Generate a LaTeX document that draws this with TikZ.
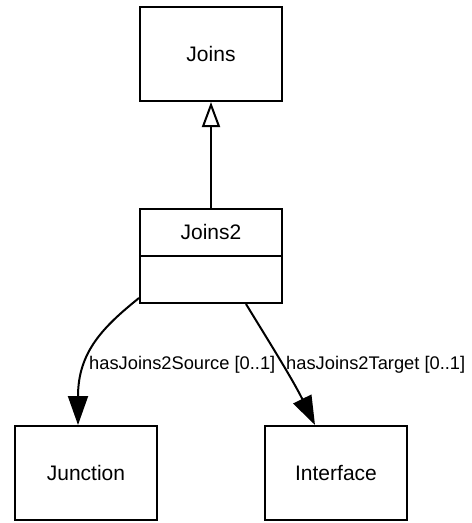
\documentclass[tikz,border=0pt]{standalone}
\usepackage{fontspec}
\setmainfont{Liberation Sans}
\usetikzlibrary{arrows.meta}
\begin{document}
\begin{tikzpicture}[x=1pt,y=-1pt,
  classbox/.style={draw=black, line width=2pt, minimum width=142pt, minimum height=94pt, inner sep=0pt, font=\fontsize{21}{25}\selectfont},
  edgelabel/.style={inner sep=0pt, anchor=west, font=\fontsize{18.3}{22}\selectfont},
  conn/.style={line width=2pt},
  assoc/.style={conn, -{Triangle[length=29pt,width=20pt]}},
  inherit/.style={conn, -{Triangle[open,length=25pt,width=18pt,fill=white]}}]
\useasboundingbox (0,0) rectangle (472,523);
\node[classbox] (joins) at (211,54) {Joins};
\node[classbox] (j2) at (211,256) {};
\node[font=\fontsize{21}{25}\selectfont, inner sep=0pt] (j2t) at (211,232) {Joins2};
\draw[line width=2pt] (j2.west) -- (j2.east);
\node[classbox] (junction) at (86,473) {Junction};
\node[classbox] (interface) at (336,473) {Interface};
\draw[inherit] (j2.north) -- (joins.south);
\draw[assoc] ([yshift=6pt]j2.south west) .. controls (103,327) and (78,352) .. ([xshift=-8pt]junction.north);
\draw[assoc] ([xshift=35pt]j2.south) .. controls (263,332) and (292,378) .. ([xshift=-21pt]interface.north);
\node[edgelabel] (l1) at (89,365) {hasJoins2Source [0..1]};
\node[edgelabel] (l2) at (286,365) {hasJoins2Target [0..1]};
\end{tikzpicture}
\end{document}
